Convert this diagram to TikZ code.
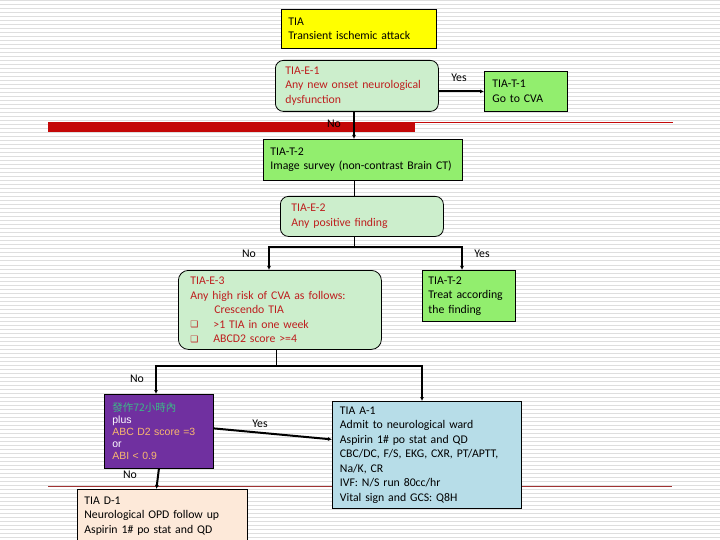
\documentclass[tikz,border=0pt]{standalone}
\usepackage{fontspec}
\setmainfont{Carlito}
\newfontfamily\arfont{Liberation Sans}
\newfontfamily\cjkfont{Noto Sans CJK TC}
\newfontfamily\symfont{DejaVu Sans}
\usetikzlibrary{arrows.meta,calc}
\definecolor{stripe}{RGB}{222,222,222}
\definecolor{barred}{RGB}{196,8,8}
\definecolor{thinred}{RGB}{160,50,50}
\definecolor{txtred}{RGB}{190,30,30}
\definecolor{lgreen}{RGB}{204,238,204}
\definecolor{bgreen}{RGB}{146,238,110}
\definecolor{tyellow}{RGB}{255,255,0}
\definecolor{tpurple}{RGB}{112,48,160}
\definecolor{tblue}{RGB}{183,221,232}
\definecolor{tpeach}{RGB}{253,233,217}
\definecolor{cjkgreen}{RGB}{60,185,135}
\definecolor{torange}{RGB}{250,185,110}
\newcommand{\sqb}{\makebox[23bp][l]{\raisebox{0.5bp}{\symfont\fontsize{9}{9}\selectfont ❑}}}
\begin{document}
\begin{tikzpicture}[x=1bp,y=-1bp,
  box/.style={draw, line width=0.8bp, align=left, anchor=north west, inner ysep=0pt,
    font=\fontsize{11.8}{14.5}\selectfont},
  lbl/.style={font=\fontsize{11.8}{13}\selectfont, inner sep=0pt},
  thk/.style={line width=2bp, line join=miter},
  thn/.style={line width=1bp},
  arr/.style={-{Latex[length=4bp,width=4bp]}}
]
\useasboundingbox (0,0) rectangle (720,540);
\fill[white] (0,0) rectangle (720,540);
\foreach \k in {0,...,134} \draw[stripe, line width=1bp] (0,{\k*4+1}) -- (720,{\k*4+1});
% template bars
\fill[barred] (48,122.5) rectangle (415,132.5);
\draw[barred, line width=1bp] (415,123) -- (673,123);
\draw[thinred, line width=0.8bp] (48,486.5) -- (672,486.5);

% nodes
\node[box, fill=tyellow, minimum width=155bp, text width=141bp, inner xsep=7bp, minimum height=39bp] (tia) at (281,9)
  {TIA\\Transient ischemic attack};
\node[box, fill=lgreen, rounded corners=8bp, text=txtred, text width=143bp, inner xsep=10bp, minimum height=51bp] (e1) at (275,60)
  {TIA-E-1\\Any new onset neurological\\dysfunction};
\node[box, fill=bgreen, text width=67bp, inner xsep=8bp, minimum height=40bp] (t1) at (484,71)
  {TIA-T-1\\Go to CVA};
\node[box, fill=bgreen, text width=185bp, inner xsep=7bp, minimum height=41bp] (t2) at (263,139)
  {TIA-T-2\\Image survey (non-contrast Brain CT)};
\node[box, fill=lgreen, rounded corners=8bp, text=txtred, text width=141bp, inner xsep=11bp, minimum height=40bp] (e2) at (280,196)
  {TIA-E-2\\Any positive finding};
\node[box, fill=lgreen, rounded corners=10bp, text=txtred, text width=179bp, inner xsep=12bp, minimum height=79bp] (e3) at (178,270)
  {TIA-E-3\\Any high risk of CVA as follows:\\\hspace*{24bp}Crescendo TIA\\\sqb>1 TIA in one week\\\sqb ABCD2 score >=4};
\node[box, fill=bgreen, text width=81bp, inner xsep=6bp, minimum height=51bp] (t2b) at (422,270)
  {TIA-T-2\\Treat according\\the finding};
\node[box, fill=tpurple, text width=93bp, inner xsep=8bp, minimum height=74bp, font=\arfont\fontsize{10.5}{12}\selectfont] (pur) at (104,394)
  {\textcolor{cjkgreen}{\cjkfont 發作72小時內}\\\textcolor{white}{plus}\\\textcolor{torange}{ABC D2 score =3}\\\textcolor{white}{or}\\\textcolor{torange}{ABI < 0.9}};
\node[box, fill=tpeach, text width=156bp, inner xsep=7bp, minimum height=53bp] (d1) at (77,489)
  {TIA D-1\\Neurological OPD follow up\\Aspirin 1\# po stat and QD};
\node[box, fill=tblue, text width=174bp, inner xsep=7.5bp, minimum height=107bp] (a1) at (332,401)
  {TIA A-1\\Admit to neurological ward\\Aspirin 1\# po stat and QD\\CBC/DC, F/S, EKG, CXR, PT/APTT,\\Na/K, CR\\IVF: N/S run 80cc/hr\\Vital sign and GCS: Q8H};

% helper coordinates
\coordinate (xa) at (354,0);
\coordinate (xb) at (269,0);
\coordinate (xc) at (462,0);
\coordinate (xd) at (276,0);
\coordinate (xe) at (156,0);
\coordinate (xf) at (422,0);
\coordinate (ya) at (0,247);
\coordinate (yb) at (0,366);

% connectors
\draw[thk, arr] (t1.west -| e1.east) -- (t1.west);
\draw[thk, arr] (e1.south -| xa) -- (t2.north -| xa);
\draw[thn] (t2.south -| xa) -- (e2.north -| xa);
\draw[thn] (e2.south -| xa) -- (xa |- ya);
\draw[thk, arr] (xa |- ya) -| (e3.north -| xb);
\draw[thk, arr] (xa |- ya) -| (t2b.north -| xc);
\draw[thn] (e3.south -| xd) -- (xd |- yb);
\draw[thk, arr] (xd |- yb) -| (pur.north -| xe);
\draw[thk, arr] (xd |- yb) -| (a1.north -| xf);
\draw[thk, arr] ([yshift=3bp]pur.east) -- ([yshift=15.5bp]a1.west);
\draw[thk, arr] (pur.south) -- ([xshift=-6bp]d1.north);

% labels
\node[lbl] (lyes1) at (459,78) {Yes};
\node[lbl] (lno1) at (334,124) {No};
\node[lbl] (lno2) at (249,254) {No};
\node[lbl] (lyes2) at (482,254) {Yes};
\node[lbl] (lno3) at (137,379) {No};
\node[lbl] (lyes3) at (260,424) {Yes};
\node[lbl] (lno4) at (130,475) {No};
\end{tikzpicture}
\end{document}
